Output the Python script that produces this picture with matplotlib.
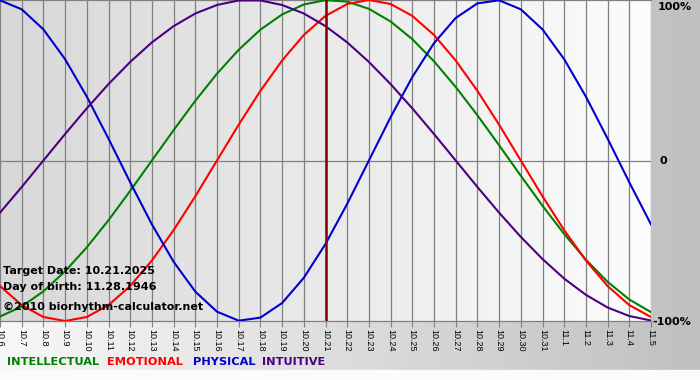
import numpy as np
import matplotlib.pyplot as plt
from matplotlib.colors import LinearSegmentedColormap

# days shown on the x axis
dates = ["10.6", "10.7", "10.8", "10.9", "10.10", "10.11", "10.12", "10.13",
         "10.14", "10.15", "10.16", "10.17", "10.18", "10.19", "10.20", "10.21",
         "10.22", "10.23", "10.24", "10.25", "10.26", "10.27", "10.28", "10.29",
         "10.30", "10.31", "11.1", "11.2", "11.3", "11.4", "11.5"]
target_date = "10.21"

# cycle values (fraction of 100%) read per day
intellectual = [-0.972, -0.910, -0.815, -0.690, -0.541, -0.372, -0.189, 0.0,
                0.189, 0.372, 0.541, 0.690, 0.815, 0.910, 0.972, 0.999,
                0.990, 0.945, 0.866, 0.756, 0.618, 0.458, 0.282, 0.095,
                -0.095, -0.282, -0.458, -0.618, -0.756, -0.866, -0.945]
emotional = [-0.782, -0.901, -0.975, -1.0, -0.975, -0.901, -0.782, -0.623,
             -0.434, -0.223, 0.0, 0.223, 0.434, 0.623, 0.782, 0.901,
             0.975, 1.0, 0.975, 0.901, 0.782, 0.623, 0.434, 0.223,
             0.0, -0.223, -0.434, -0.623, -0.782, -0.901, -0.975]
physical = [0.998, 0.942, 0.817, 0.631, 0.398, 0.136, -0.136, -0.398,
            -0.631, -0.817, -0.942, -0.998, -0.979, -0.888, -0.731, -0.520,
            -0.270, 0.0, 0.270, 0.520, 0.731, 0.888, 0.979, 0.998,
            0.942, 0.817, 0.631, 0.398, 0.136, -0.136, -0.398]
intuitive = [-0.325, -0.165, 0.0, 0.165, 0.325, 0.476, 0.614, 0.736,
             0.837, 0.916, 0.969, 0.997, 0.997, 0.969, 0.916, 0.837,
             0.736, 0.614, 0.476, 0.325, 0.165, 0.0, -0.165, -0.325,
             -0.476, -0.614, -0.736, -0.837, -0.916, -0.969, -0.997]

series = [("INTELLECTUAL", intellectual, "#008000"),
          ("EMOTIONAL", emotional, "#ff0000"),
          ("PHYSICAL", physical, "#0000cc"),
          ("INTUITIVE", intuitive, "#4b0082")]

W, H = 700, 380
fig = plt.figure(figsize=(W / 100, H / 100), dpi=100)

# outer background: white -> grey gradient, white strip at the very bottom
bg = fig.add_axes([0, 0, 1, 1], zorder=-10)
bg.set_axis_off()
grad = np.linspace(0, 1, 256).reshape(1, -1)
outer_cmap = LinearSegmentedColormap.from_list("outer", ["#f8f8f8", "#c0c0c0"])
bg.imshow(grad, aspect="auto", cmap=outer_cmap, extent=[0, 1, 10 / H, 1])
bg.axhspan(0, 10 / H, color="#fbfbfb")
bg.set_xlim(0, 1)
bg.set_ylim(0, 1)

ax = fig.add_axes([0, 59 / H, 651 / W, 321 / H])
ax.patch.set_alpha(0)
x = np.arange(len(dates))
inner_cmap = LinearSegmentedColormap.from_list("inner", ["#d8d8d8", "#fcfcfc"])
ax.imshow(grad, aspect="auto", cmap=inner_cmap, extent=[0, len(dates) - 1, -1, 1], zorder=0)

ax.set_xlim(0, len(dates) - 1)
ax.set_ylim(-1, 1)
ax.set_xticks(x)
ax.set_xticklabels(dates, rotation=-90, fontsize=6.5, family="Liberation Sans")
ax.set_yticks([])
ax.tick_params(axis="x", direction="out", length=4, color="#808080", pad=2)
ax.grid(axis="x", color="#808080", lw=0.9)
ax.axhline(0, color="#808080", lw=0.9)
for s in ax.spines.values():
    s.set_color("#808080")
    s.set_linewidth(0.9)
ax.spines["left"].set_visible(False)
ax.spines["right"].set_visible(False)

ax.axvline(dates.index(target_date), color="#800000", lw=1.8, zorder=4)

for name, vals, col in series:
    ax.plot(x, vals, color=col, lw=1.5, zorder=3)

bold = dict(fontweight="bold", fontsize=8, color="black", va="center")
fig.text(658 / W, 1 - 7 / H, "100%", **bold)
fig.text(660 / W, 1 - 161 / H, "0", **bold)
fig.text(652 / W, 1 - 322 / H, "-100%", **bold)

fig.text(3 / W, 1 - 271 / H, "Target Date: " + "10.21.2025", **bold)
fig.text(3 / W, 1 - 287 / H, "Day of birth: " + "11.28.1946", **bold)
fig.text(3 / W, 1 - 307 / H, "\u00a92010 biorhythm-calculator.net", **bold)

legend_x = [7, 107, 193, 262]
for lx, (name, vals, col) in zip(legend_x, series):
    fig.text(lx / W, 1 - 362 / H, name, color=col, fontweight="bold",
             fontsize=8.2, va="center")

fig.savefig("out.png", dpi=100)
